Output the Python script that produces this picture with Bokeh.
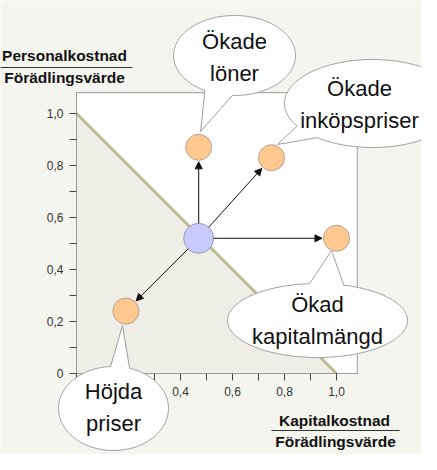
import numpy as np
from bokeh.plotting import figure
from bokeh.models import (Range1d, LinearAxis, FixedTicker, Arrow, NormalHead,
                          CustomJSTickFormatter)
from bokeh.core.properties import value
from bokeh.embed import file_html
from bokeh.resources import INLINE

# ---------------- data ----------------
START_X = [0.47]
START_Y = [0.52]
TARGET_X = [0.47, 0.75, 1.00, 0.19]
TARGET_Y = [0.87, 0.83, 0.52, 0.24]
BUBBLE_TEXT = ["Ökade\nlöner", "Ökade\ninköpspriser", "Ökad\nkapitalmängd", "Höjda\npriser"]
LIMIT_X = [0.0, 1.0]
LIMIT_Y = [1.0, 0.0]
TICKS = [0.0, 0.2, 0.4, 0.6, 0.8, 1.0]
MINOR_TICKS = [0.1, 0.3, 0.5, 0.7, 0.9]
Y_TITLE = ["Personalkostnad", "Förädlingsvärde"]
X_TITLE = ["Kapitalkostnad", "Förädlingsvärde"]

# ---------------- layout ----------------
W, H = 421, 454
PAD = 8
SCALE = 260.0            # px per data unit
ORIGIN_X, ORIGIN_Y = 84, 381   # page px of data origin
BOX_MAX = 1.08


def dx(X):
    return (X - ORIGIN_X) / SCALE


def dy(Y):
    return (ORIGIN_Y - Y) / SCALE


BG = "#f5f5f0"
FONT = "Liberation Sans"

p = figure(width=W, height=H, output_backend="svg", toolbar_location=None,
           x_range=Range1d(dx(PAD), dx(PAD + W)),
           y_range=Range1d(dy(PAD + H), dy(PAD)),
           x_axis_type=None, y_axis_type=None, min_border=0, title=None)
p.outline_line_color = None
p.background_fill_color = BG
p.border_fill_color = BG

# plot box
p.quad(left=[0], right=[BOX_MAX], bottom=[0], top=[BOX_MAX],
       fill_color="white", line_color="#9a9a9a", line_width=1)
# region under the limit line
p.patch(x=LIMIT_X[:1] + LIMIT_X, y=[0.0] + LIMIT_Y[:1] + LIMIT_Y[1:],
        fill_color="#eeede6", line_color=None)
p.line(LIMIT_X, LIMIT_Y, line_color="#bcb993", line_width=3)

# axes
fmt = CustomJSTickFormatter(code="return tick == 0 ? '0' : tick.toFixed(1).replace('.', ',');")
for side, ax in (("left", LinearAxis(fixed_location=0)), ("below", LinearAxis(fixed_location=0))):
    ax.bounds = (0, BOX_MAX)
    ax.ticker = FixedTicker(ticks=TICKS, minor_ticks=MINOR_TICKS)
    ax.formatter = fmt
    ax.axis_line_color = "#9a9a9a"
    ax.major_tick_line_color = "#444444"
    ax.minor_tick_line_color = "#444444"
    ax.major_tick_in = 0
    ax.major_tick_out = 7
    ax.minor_tick_in = 0
    ax.minor_tick_out = 7
    ax.major_label_text_font = FONT
    ax.major_label_text_font_size = "12px"
    ax.major_label_text_color = "#333333"
    ax.major_label_standoff = 6
    p.add_layout(ax, side)

# points
p.scatter(START_X, START_Y, size=30, fill_color="#c9c9fb", line_color="#9c9cbc")
p.scatter(TARGET_X, TARGET_Y, size=26, fill_color="#ffc88f", line_color="#b4a28e")

# arrows
r_start = 15 / SCALE
r_end = 14.5 / SCALE
for tx, ty in zip(TARGET_X, TARGET_Y):
    vx, vy = tx - START_X[0], ty - START_Y[0]
    n = np.hypot(vx, vy)
    ux, uy = vx / n, vy / n
    p.add_layout(Arrow(x_start=START_X[0] + ux * r_start, y_start=START_Y[0] + uy * r_start,
                       x_end=tx - ux * r_end, y_end=ty - uy * r_end,
                       line_color="#111111", line_width=1,
                       end=NormalHead(size=7, fill_color="#111111", line_color="#111111",
                                      line_width=1)))

# speech bubbles (page px: centre, radii, tail base angles, tail tip, text centre)
BUBBLE_LAYOUT = [
    ((242, 63), (61, 40), (241, 268), (208, 139), (242, 65)),
    ((380, 111), (88, 44), (211, 231), (285, 152), (367, 112)),
    ((325, 328), (90, 37), (73, 95), (339, 258), (325, 328)),
    ((121, 416), (55, 42), (73, 93), (130, 333), (121, 415)),
]
bxs, bys, tx_, ty_ = [], [], [], []
for (c, r, t, tip, tc) in BUBBLE_LAYOUT:
    cx, cy = dx(c[0]), dy(c[1])
    rx, ry = r[0] / SCALE, r[1] / SCALE
    a = np.radians(np.linspace(t[1], t[0] + 360, 160))
    bxs.append(list(cx + rx * np.cos(a)) + [dx(tip[0])])
    bys.append(list(cy + ry * np.sin(a)) + [dy(tip[1])])
    tx_.append(dx(tc[0]))
    ty_.append(dy(tc[1]))
br = p.patches(bxs, bys, fill_color="white", line_color="#a0a0a0", line_width=1)
br.level = "overlay"
bt = p.text(tx_, ty_, text=BUBBLE_TEXT, text_align="center", text_baseline="middle",
            text_font=value(FONT), text_font_size="22px", text_color="#111111",
            text_line_height=1.25)
bt.level = "overlay"

# axis titles as fractions
TITLE_KW = dict(text_align="center", text_baseline="middle", text_font=value(FONT),
                text_font_size="15.5px", text_font_style="bold", text_color="#111111")
p.text([dx(72)], [dy(63)], text=[Y_TITLE[0]], **TITLE_KW)
p.segment([dx(PAD)], [dy(75)], [dx(140)], [dy(75)], line_color="#333333", line_width=1)
p.text([dx(72)], [dy(85)], text=[Y_TITLE[1]], **TITLE_KW)

p.text([dx(342)], [dy(428)], text=[X_TITLE[0]], **TITLE_KW)
p.segment([dx(279)], [dy(438)], [dx(407)], [dy(438)], line_color="#333333", line_width=1)
p.text([dx(343)], [dy(449)], text=[X_TITLE[1]], **TITLE_KW)

open("out.html", "w").write(file_html(p, INLINE))
